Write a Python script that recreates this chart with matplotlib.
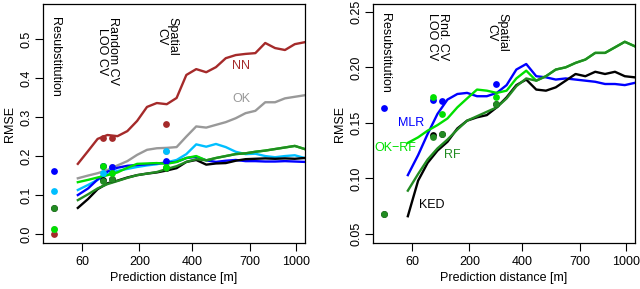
import numpy as np
import matplotlib
matplotlib.use("Agg")
import matplotlib.pyplot as plt

plt.rcParams['font.family'] = ['Liberation Sans', 'DejaVu Sans']

# prediction distances (m) of the curves
dist = [53, 71, 90, 112, 137, 164, 193, 225, 259, 296, 335, 376, 420, 467,
        515, 566, 620, 676, 734, 795, 858, 924, 992, 1063]

# ---- left panel: RMSE curves ----
nn = [0.180, 0.213, 0.244, 0.254, 0.251, 0.264, 0.290, 0.326, 0.336, 0.333, 0.349, 0.408,
      0.423, 0.415, 0.428, 0.451, 0.459, 0.462, 0.464, 0.490, 0.477, 0.472, 0.487, 0.492]
ok = [0.143, 0.150, 0.156, 0.164, 0.176, 0.187, 0.203, 0.216, 0.220, 0.221, 0.223, 0.250,
      0.276, 0.273, 0.280, 0.287, 0.297, 0.310, 0.316, 0.338, 0.338, 0.348, 0.352, 0.356]
l_cyan = [0.113, 0.126, 0.139, 0.153, 0.162, 0.167, 0.172, 0.176, 0.179, 0.184, 0.190, 0.205,
          0.230, 0.224, 0.231, 0.223, 0.211, 0.205, 0.206, 0.200, 0.197, 0.200, 0.202, 0.195]
l_mlr = [0.100, 0.117, 0.140, 0.160, 0.170, 0.175, 0.177, 0.179, 0.181, 0.183, 0.185, 0.195,
         0.198, 0.189, 0.185, 0.188, 0.190, 0.187, 0.187, 0.186, 0.186, 0.187, 0.186, 0.185]
l_okrf = [0.133, 0.139, 0.145, 0.151, 0.158, 0.170, 0.180, 0.181, 0.182, 0.180, 0.185, 0.195,
          0.200, 0.189, 0.195, 0.200, 0.205, 0.207, 0.211, 0.214, 0.218, 0.222, 0.226, 0.218]
l_ked = [0.067, 0.090, 0.115, 0.130, 0.137, 0.145, 0.151, 0.155, 0.158, 0.163, 0.169, 0.185,
         0.190, 0.178, 0.181, 0.182, 0.188, 0.192, 0.193, 0.194, 0.193, 0.194, 0.193, 0.195]
l_rf = [0.087, 0.102, 0.117, 0.128, 0.136, 0.144, 0.151, 0.155, 0.159, 0.167, 0.174, 0.185,
        0.192, 0.189, 0.195, 0.200, 0.205, 0.207, 0.211, 0.214, 0.218, 0.222, 0.226, 0.218]

# ---- right panel: RMSE curves ----
r_mlr = [0.103, 0.121, 0.140, 0.158, 0.171, 0.176, 0.177, 0.174, 0.174, 0.177, 0.184, 0.198,
         0.203, 0.192, 0.191, 0.189, 0.190, 0.189, 0.188, 0.187, 0.185, 0.185, 0.184, 0.186]
r_okrf = [0.132, 0.137, 0.143, 0.148, 0.154, 0.164, 0.172, 0.180, 0.179, 0.177, 0.179, 0.190,
          0.197, 0.188, 0.192, 0.198, 0.200, 0.204, 0.207, 0.213, 0.213, 0.218, 0.223, 0.219]
r_ked = [0.066, 0.098, 0.114, 0.125, 0.133, 0.145, 0.152, 0.155, 0.157, 0.164, 0.173, 0.184,
         0.189, 0.180, 0.179, 0.182, 0.188, 0.194, 0.192, 0.196, 0.194, 0.196, 0.192, 0.191]
r_rf = [0.089, 0.104, 0.117, 0.127, 0.135, 0.144, 0.152, 0.156, 0.160, 0.164, 0.172, 0.183,
        0.190, 0.188, 0.192, 0.198, 0.200, 0.204, 0.207, 0.213, 0.213, 0.218, 0.223, 0.219]

# ---- validation estimates (points) ----
pt_dist = [21, 102, 123, 295]   # resubstitution, random CV, LOO CV, spatial CV
l_pts = {
    'nn':   [0.000, 0.246, 0.246, 0.282],
    'ok':   [0.013, 0.174, 0.172, 0.213],
    'cyan': [0.110, 0.156, 0.170, 0.213],
    'mlr':  [0.162, 0.174, 0.172, 0.187],
    'ked':  [0.067, 0.138, 0.141, 0.169],
    'rf':   [0.067, 0.136, 0.141, 0.169],
    'okrf': [0.012, 0.174, 0.156, 0.172],
}
r_pts = {
    'mlr':  [0.1635, 0.171, 0.170, 0.185],
    'okrf': [0.012, 0.173, 0.158, 0.173],
    'ked':  [0.068, 0.139, 0.140, 0.167],
    'rf':   [0.068, 0.137, 0.140, 0.167],
}

xticks = [60, 200, 400, 700, 1000]

C = {'nn': '#A52A2A', 'ok': '#999999', 'cyan': '#00BFFF', 'mlr': '#0000FF',
     'okrf': '#00E000', 'ked': '#000000', 'rf': '#228B22'}

fig = plt.figure(figsize=(6.4, 2.89), dpi=100)
axL = fig.add_axes([43/640, 46/289, 262/640, 239/289])
axR = fig.add_axes([373/640, 46/289, 262/640, 239/289])

fwd = lambda x: np.sqrt(np.clip(x, 0, None))
inv = lambda x: np.square(x)

def style(ax, ylim, yticks, ylabels):
    ax.set_xscale('function', functions=(fwd, inv))
    ax.set_xlim(11.5, 1065)
    ax.set_ylim(*ylim)
    ax.set_xticks(xticks)
    ax.set_xticklabels([str(t) for t in xticks], fontsize=9)
    ax.set_yticks(yticks)
    ax.set_yticklabels(ylabels, fontsize=9, rotation=90, va='center')
    ax.tick_params(direction='out', length=5.5, width=0.8, pad=2)
    ax.tick_params(axis='x', pad=4)
    for s in ax.spines.values():
        s.set_linewidth(0.9)
    ax.set_xlabel('Prediction distance [m]', fontsize=9, labelpad=3)
    ax.set_ylabel('RMSE', fontsize=9, labelpad=3)

lw = 1.7
ms = 24

# left panel
left_lines = [('nn', nn), ('ok', ok), ('cyan', l_cyan), ('mlr', l_mlr),
              ('okrf', l_okrf), ('ked', l_ked), ('rf', l_rf)]
for k, v in left_lines:
    axL.plot(dist, v, color=C[k], lw=lw, solid_joinstyle='round')
for k in ['nn', 'ok', 'cyan', 'mlr', 'ked', 'rf', 'okrf']:
    axL.scatter(pt_dist, l_pts[k], s=ms, color=C[k], zorder=5, linewidths=0)
style(axL, (-0.023, 0.59), [0.0, 0.1, 0.2, 0.3, 0.4, 0.5],
      ['0.0', '0.1', '0.2', '0.3', '0.4', '0.5'])
axL.text(650, 0.43, 'NN', color=C['nn'], fontsize=9, ha='center', va='center')
axL.text(650, 0.346, 'OK', color=C['ok'], fontsize=9, ha='center', va='center')
axL.text(22, 0.556, 'Resubstitution', rotation=-90, fontsize=9, ha='center', va='top',
         linespacing=0.9)
axL.text(112, 0.556, 'Random CV\nLOO CV', rotation=-90, fontsize=9, ha='center', va='top',
         linespacing=0.9)
axL.text(296, 0.556, 'Spatial\nCV', rotation=-90, fontsize=9, ha='center', va='top',
         linespacing=0.9)

# right panel
right_lines = [('mlr', r_mlr), ('okrf', r_okrf), ('ked', r_ked), ('rf', r_rf)]
for k, v in right_lines:
    axR.plot(dist, v, color=C[k], lw=lw, solid_joinstyle='round')
for k in ['mlr', 'okrf', 'ked', 'rf']:
    axR.scatter(pt_dist, r_pts[k], s=ms, color=C[k], zorder=5, linewidths=0)
style(axR, (0.0419, 0.257), [0.05, 0.10, 0.15, 0.20, 0.25],
      ['0.05', '0.10', '0.15', '0.20', '0.25'])
axR.text(58, 0.150, 'MLR', color=C['mlr'], fontsize=9, ha='center', va='center')
axR.text(35, 0.1275, 'OK\u2212RF', color=C['okrf'], fontsize=9, ha='center', va='center')
axR.text(150, 0.121, 'RF', color=C['rf'], fontsize=9, ha='center', va='center')
axR.text(100, 0.076, 'KED', color=C['ked'], fontsize=9, ha='center', va='center')
axR.text(22, 0.249, 'Resubstitution', rotation=-90, fontsize=9, ha='center', va='top',
         linespacing=0.9)
axR.text(112, 0.249, 'Rnd. CV\nLOO CV', rotation=-90, fontsize=9, ha='center', va='top',
         linespacing=0.9)
axR.text(296, 0.249, 'Spatial\nCV', rotation=-90, fontsize=9, ha='center', va='top',
         linespacing=0.9)

fig.savefig('out.png', dpi=100)
